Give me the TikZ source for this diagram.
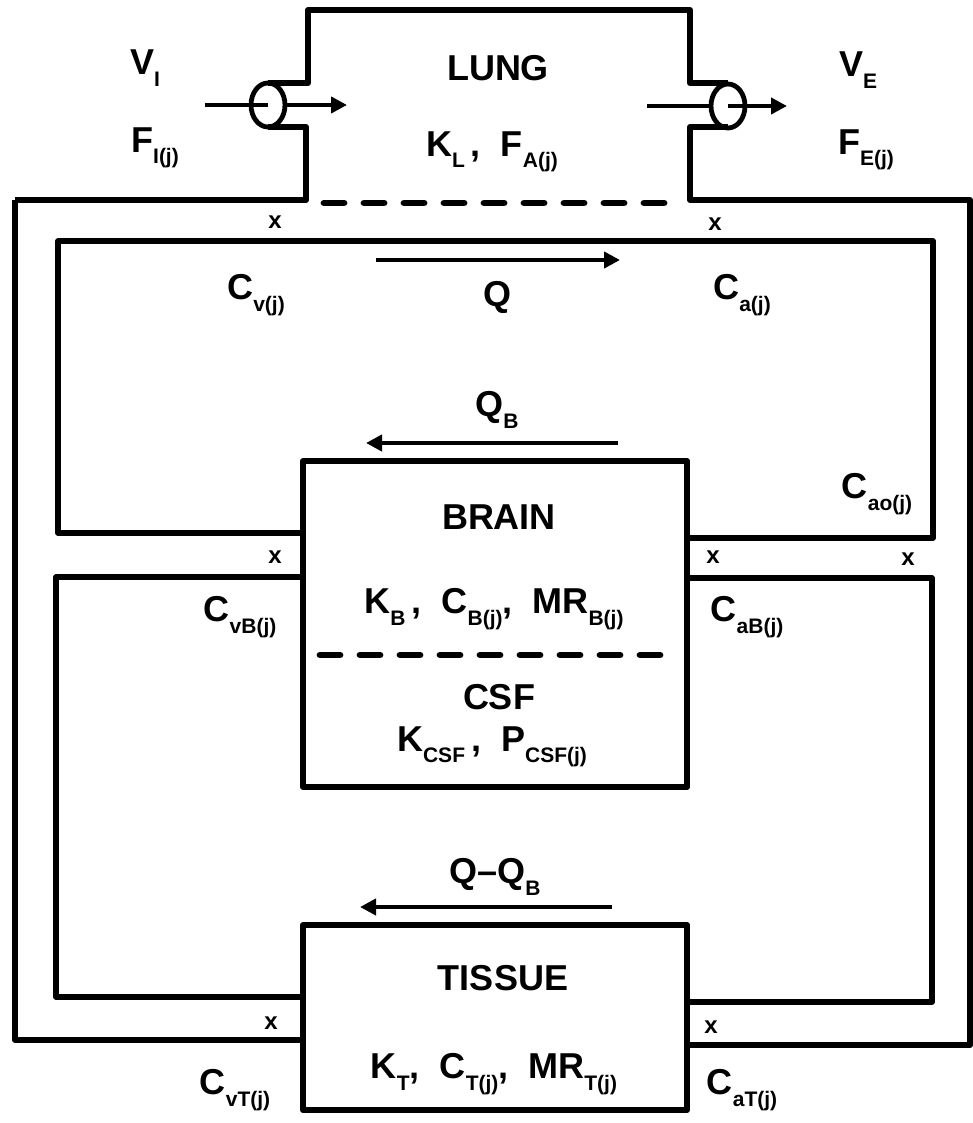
\documentclass[tikz,border=0pt]{standalone}
\usepackage{fontspec}
\setmainfont{Liberation Sans}
\usepackage{tikz}
\usetikzlibrary{arrows.meta, shapes.geometric}
\newcommand{\lowsub}[1]{\raisebox{-0.6ex}{\fontsize{10.5}{11}\selectfont #1}}

\begin{document}
\begin{tikzpicture}[x=0.5pt, y=-0.5pt, >={Triangle[length=8pt, width=8pt]},
	wall/.style={line width=3pt, line join=round},
	pipe/.style={line width=2.6pt, line join=round},
	membrane/.style={line width=3.4pt, line cap=round, dash pattern=on 10pt off 10pt},
	flow/.style={line width=2pt, ->},
	valve/.style={ellipse, draw, line width=2.4pt, minimum width=17pt, minimum height=22pt, inner sep=0pt},
	lbl/.style={font=\fontsize{18}{21}\selectfont\bfseries, inner sep=0pt},
	xmk/.style={font=\fontsize{12}{12}\selectfont\bfseries, inner sep=0pt}]
	\useasboundingbox (0,0) rectangle (973,1123);

	\draw[wall] (15,200) -- (306,200) -- (306,127) -- (268,127);
	\draw[wall] (268,83) -- (308,83) -- (308,10) -- (690,10) -- (690,83) -- (728,83);
	\draw[wall] (728,127) -- (690,127) -- (690,200) -- (970,200) -- (970,1045) -- (687,1045);
	\draw[wall] (15,200) -- (15,1040) -- (303,1040);
	\draw[membrane] (324,203) -- (672,203);

	\node[valve] (vin) at (268,105) {};
	\node[valve] (vout) at (728,106) {};
	\coordinate (inS) at (205,105);
	\coordinate (inE) at (347,105);
	\coordinate (outS) at (647,106);
	\coordinate (outE) at (787,106);
	\draw[line width=1.8pt] (inS) -- (vin.center);
	\draw[flow] (vin.east) -- (inE);
	\draw[line width=1.8pt] (outS) -- (vout.west);
	\draw[flow] (vout.center) -- (outE);

	\draw[pipe] (303,533) -- (58,533) -- (58,241) -- (933,241) -- (933,538) -- (687,538);
	\draw[pipe] (303,577) -- (56,577) -- (56,997) -- (303,997);
	\draw[pipe] (687,578) -- (932,578) -- (932,1002) -- (687,1002);

	\draw[wall] (303,461) rectangle (687,787);
	\draw[membrane] (320,655) -- (668,655);
	\draw[wall] (303,925) rectangle (687,1110);

	\coordinate (qS) at (376,260);
	\coordinate (qE) at (620,260);
	\coordinate (qbS) at (618,443);
	\coordinate (qbE) at (366,443);
	\coordinate (qtS) at (612,907);
	\coordinate (qtE) at (360,907);
	\draw[flow] (qS) -- (qE);
	\draw[flow] (qbS) -- (qbE);
	\draw[flow] (qtS) -- (qtE);

	\node[lbl] (vi) at (145,68) {V\lowsub{I}};
	\node[lbl] (fi) at (155,148) {F\lowsub{I(j)}};
	\node[lbl] (lung) at (498,68) {LUNG};
	\node[lbl] (kl) at (492,152) {K\lowsub{L}\,, \ F\lowsub{A(j)}};
	\node[lbl] (ve) at (858,70) {V\lowsub{E}};
	\node[lbl] (fe) at (866,150) {F\lowsub{E(j)}};

	\node[xmk] (x1) at (275,222) {x};
	\node[xmk] (x2) at (715,224) {x};
	\node[xmk] (x3) at (275,557) {x};
	\node[xmk] (x4) at (713,557) {x};
	\node[xmk] (x5) at (908,559) {x};
	\node[xmk] (x6) at (271,1023) {x};
	\node[xmk] (x7) at (711,1027) {x};

	\node[lbl] (cv) at (256,295) {C\lowsub{v(j)}};
	\node[lbl] (q) at (497,297) {Q};
	\node[lbl] (ca) at (742,295) {C\lowsub{a(j)}};
	\node[lbl] (qb) at (497,410) {Q\lowsub{B}};
	\node[lbl] (cao) at (877,494) {C\lowsub{ao(j)}};

	\node[lbl] (brainT) at (499,517) {BRAIN};
	\node[lbl] (brainP) at (494,609) {K\lowsub{B}\,, \ C\lowsub{B(j)}, \ MR\lowsub{B(j)}};
	\node[lbl] (csf) at (499,697) {CSF};
	\node[lbl] (csfP) at (492,747) {K\lowsub{CSF}\,, \ P\lowsub{CSF(j)}};
	\node[lbl] (cvb) at (240,617) {C\lowsub{vB(j)}};
	\node[lbl] (cab) at (747,617) {C\lowsub{aB(j)}};

	\node[lbl] (qqb) at (495,877) {Q--Q\lowsub{B}};
	\node[lbl] (tissueT) at (503,978) {TISSUE};
	\node[lbl] (tissueP) at (494,1074) {K\lowsub{T}, \ C\lowsub{T(j)}, \ MR\lowsub{T(j)}};
	\node[lbl] (cvt) at (235,1090) {C\lowsub{vT(j)}};
	\node[lbl] (cat) at (742,1090) {C\lowsub{aT(j)}};
\end{tikzpicture}
\end{document}
